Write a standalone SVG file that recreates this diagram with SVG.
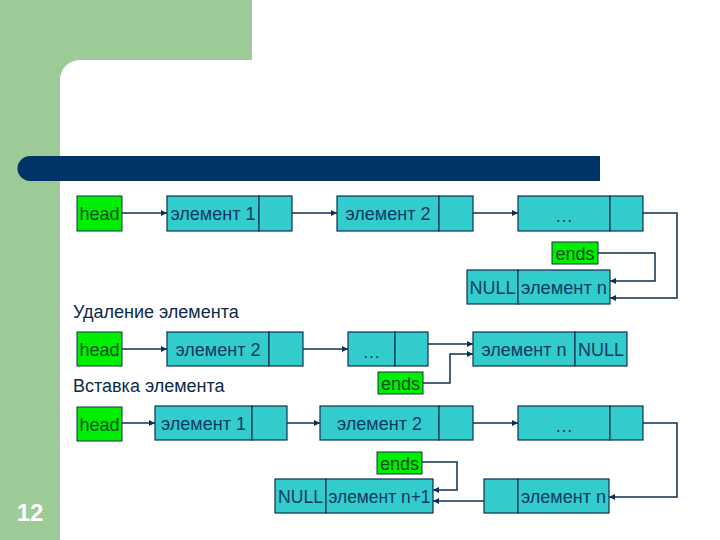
<svg xmlns="http://www.w3.org/2000/svg" width="720" height="540" viewBox="0 0 720 540">
<style>
.bg{fill:#9dcb98}
.cell{fill:#33cccc;stroke:#0f3050;stroke-width:1.2}
.grn{fill:#00ee00;stroke:#0f3050;stroke-width:1}
.t{font-family:"Liberation Sans",Arial,sans-serif;font-size:18px;fill:#0d3a63;text-anchor:middle}
.g{font-family:"Liberation Sans",Arial,sans-serif;font-size:18px;fill:#0a4f1a;text-anchor:middle}
.lbl{font-family:"Liberation Sans",Arial,sans-serif;font-size:18px;fill:#0d2a4a}
.ln{fill:none;stroke:#0f3050;stroke-width:1.5}
</style>
<defs>
<marker id="ah" viewBox="0 0 10 10" refX="10" refY="5" markerWidth="6" markerHeight="6" orient="auto" markerUnits="userSpaceOnUse">
<path d="M0,0 L10,5 L0,10 z" fill="#0f3050"/>
</marker>
</defs>
<rect width="720" height="540" fill="#ffffff"/>
<rect class="bg" x="0" y="0" width="252" height="60"/>
<rect class="bg" x="0" y="0" width="60" height="540"/>
<path d="M60,60 L80,60 A20,20 0 0 0 60,80 Z" class="bg"/>
<path d="M30,156 L600,156 L600,181 L30,181 A12.5,12.5 0 0 1 30,156 Z" fill="#003366"/>
<text x="30" y="521" font-family="Liberation Sans,Arial,sans-serif" font-size="24" font-weight="bold" fill="#ffffff" text-anchor="middle">12</text>

<g id="connectors">
<line class="ln" x1="122" y1="213" x2="167" y2="213" marker-end="url(#ah)"/>
<line class="ln" x1="292" y1="213" x2="337" y2="213" marker-end="url(#ah)"/>
<line class="ln" x1="473" y1="213" x2="518" y2="213" marker-end="url(#ah)"/>
<polyline class="ln" points="643,213 677,213 677,298 610,298" marker-end="url(#ah)"/>
<polyline class="ln" points="598,253 655,253 655,281 610,281" marker-end="url(#ah)"/>

<line class="ln" x1="122" y1="349" x2="167" y2="349" marker-end="url(#ah)"/>
<line class="ln" x1="303" y1="349" x2="348" y2="349" marker-end="url(#ah)"/>
<line class="ln" x1="428" y1="344" x2="473" y2="344" marker-end="url(#ah)"/>
<polyline class="ln" points="423,383 450,383 450,354 473,354" marker-end="url(#ah)"/>

<line class="ln" x1="122" y1="423" x2="155" y2="423" marker-end="url(#ah)"/>
<line class="ln" x1="287" y1="423" x2="320" y2="423" marker-end="url(#ah)"/>
<line class="ln" x1="473" y1="423" x2="518" y2="423" marker-end="url(#ah)"/>
<polyline class="ln" points="643,423 677,423 677,497 609,497" marker-end="url(#ah)"/>
<polyline class="ln" points="422,462 457,462 457,490 433,490" marker-end="url(#ah)"/>
<line class="ln" x1="484" y1="501" x2="433" y2="501" marker-end="url(#ah)"/>
</g>

<text class="lbl" x="73" y="318">Удаление элемента</text>
<text class="lbl" x="73" y="392">Вставка элемента</text>

<g id="head1"><rect class="grn" x="77" y="196" width="45" height="35"/><text class="g" x="99.5" y="220">head</text></g>
<g id="r1e1"><rect class="cell" x="167" y="196" width="92" height="35"/><rect class="cell" x="259" y="196" width="33" height="35"/><text class="t" x="213" y="220">элемент 1</text></g>
<g id="r1e2"><rect class="cell" x="337" y="196" width="102" height="35"/><rect class="cell" x="439" y="196" width="34" height="35"/><text class="t" x="388" y="220">элемент 2</text></g>
<g id="r1dots"><rect class="cell" x="518" y="196" width="92" height="35"/><rect class="cell" x="610" y="196" width="33" height="35"/><text class="t" x="564" y="222">…</text></g>
<g id="r1ends"><rect class="grn" x="552" y="242" width="46" height="22"/><text class="g" x="575" y="259.5">ends</text></g>
<g id="r1en"><rect class="cell" x="467" y="270" width="51" height="34"/><rect class="cell" x="518" y="270" width="92" height="34"/><text class="t" x="492.5" y="294">NULL</text><text class="t" x="564" y="294" textLength="86" lengthAdjust="spacingAndGlyphs">элемент n</text></g>

<g id="head2"><rect class="grn" x="77" y="332" width="45" height="34"/><text class="g" x="99.5" y="356">head</text></g>
<g id="r2e2"><rect class="cell" x="167" y="332" width="102" height="34"/><rect class="cell" x="269" y="332" width="34" height="34"/><text class="t" x="218" y="356">элемент 2</text></g>
<g id="r2dots"><rect class="cell" x="348" y="332" width="47" height="34"/><rect class="cell" x="395" y="332" width="33" height="34"/><text class="t" x="371.5" y="358">…</text></g>
<g id="r2ends"><rect class="grn" x="378" y="372" width="45" height="22"/><text class="g" x="400.5" y="389.5">ends</text></g>
<g id="r2en"><rect class="cell" x="473" y="332" width="102" height="34"/><rect class="cell" x="575" y="332" width="52" height="34"/><text class="t" x="524" y="356">элемент n</text><text class="t" x="601" y="356">NULL</text></g>

<g id="head3"><rect class="grn" x="77" y="407" width="45" height="34"/><text class="g" x="99.5" y="431">head</text></g>
<g id="r3e1"><rect class="cell" x="155" y="406" width="97" height="34"/><rect class="cell" x="252" y="406" width="35" height="34"/><text class="t" x="203.5" y="430">элемент 1</text></g>
<g id="r3e2"><rect class="cell" x="320" y="406" width="119" height="34"/><rect class="cell" x="439" y="406" width="34" height="34"/><text class="t" x="379.5" y="430">элемент 2</text></g>
<g id="r3dots"><rect class="cell" x="518" y="406" width="92" height="34"/><rect class="cell" x="610" y="406" width="33" height="34"/><text class="t" x="564" y="432">…</text></g>
<g id="r3ends"><rect class="grn" x="377" y="452" width="45" height="22"/><text class="g" x="399.5" y="469.5">ends</text></g>
<g id="r3new"><rect class="cell" x="275" y="479" width="51" height="34"/><rect class="cell" x="326" y="479" width="107" height="34"/><text class="t" x="300.5" y="503" textLength="45" lengthAdjust="spacingAndGlyphs">NULL</text><text class="t" x="379.5" y="503" textLength="102" lengthAdjust="spacingAndGlyphs">элемент n+1</text></g>
<g id="r3en"><rect class="cell" x="484" y="479" width="34" height="34"/><rect class="cell" x="518" y="479" width="91" height="34"/><text class="t" x="563.5" y="503" textLength="85" lengthAdjust="spacingAndGlyphs">элемент n</text></g>
</svg>
